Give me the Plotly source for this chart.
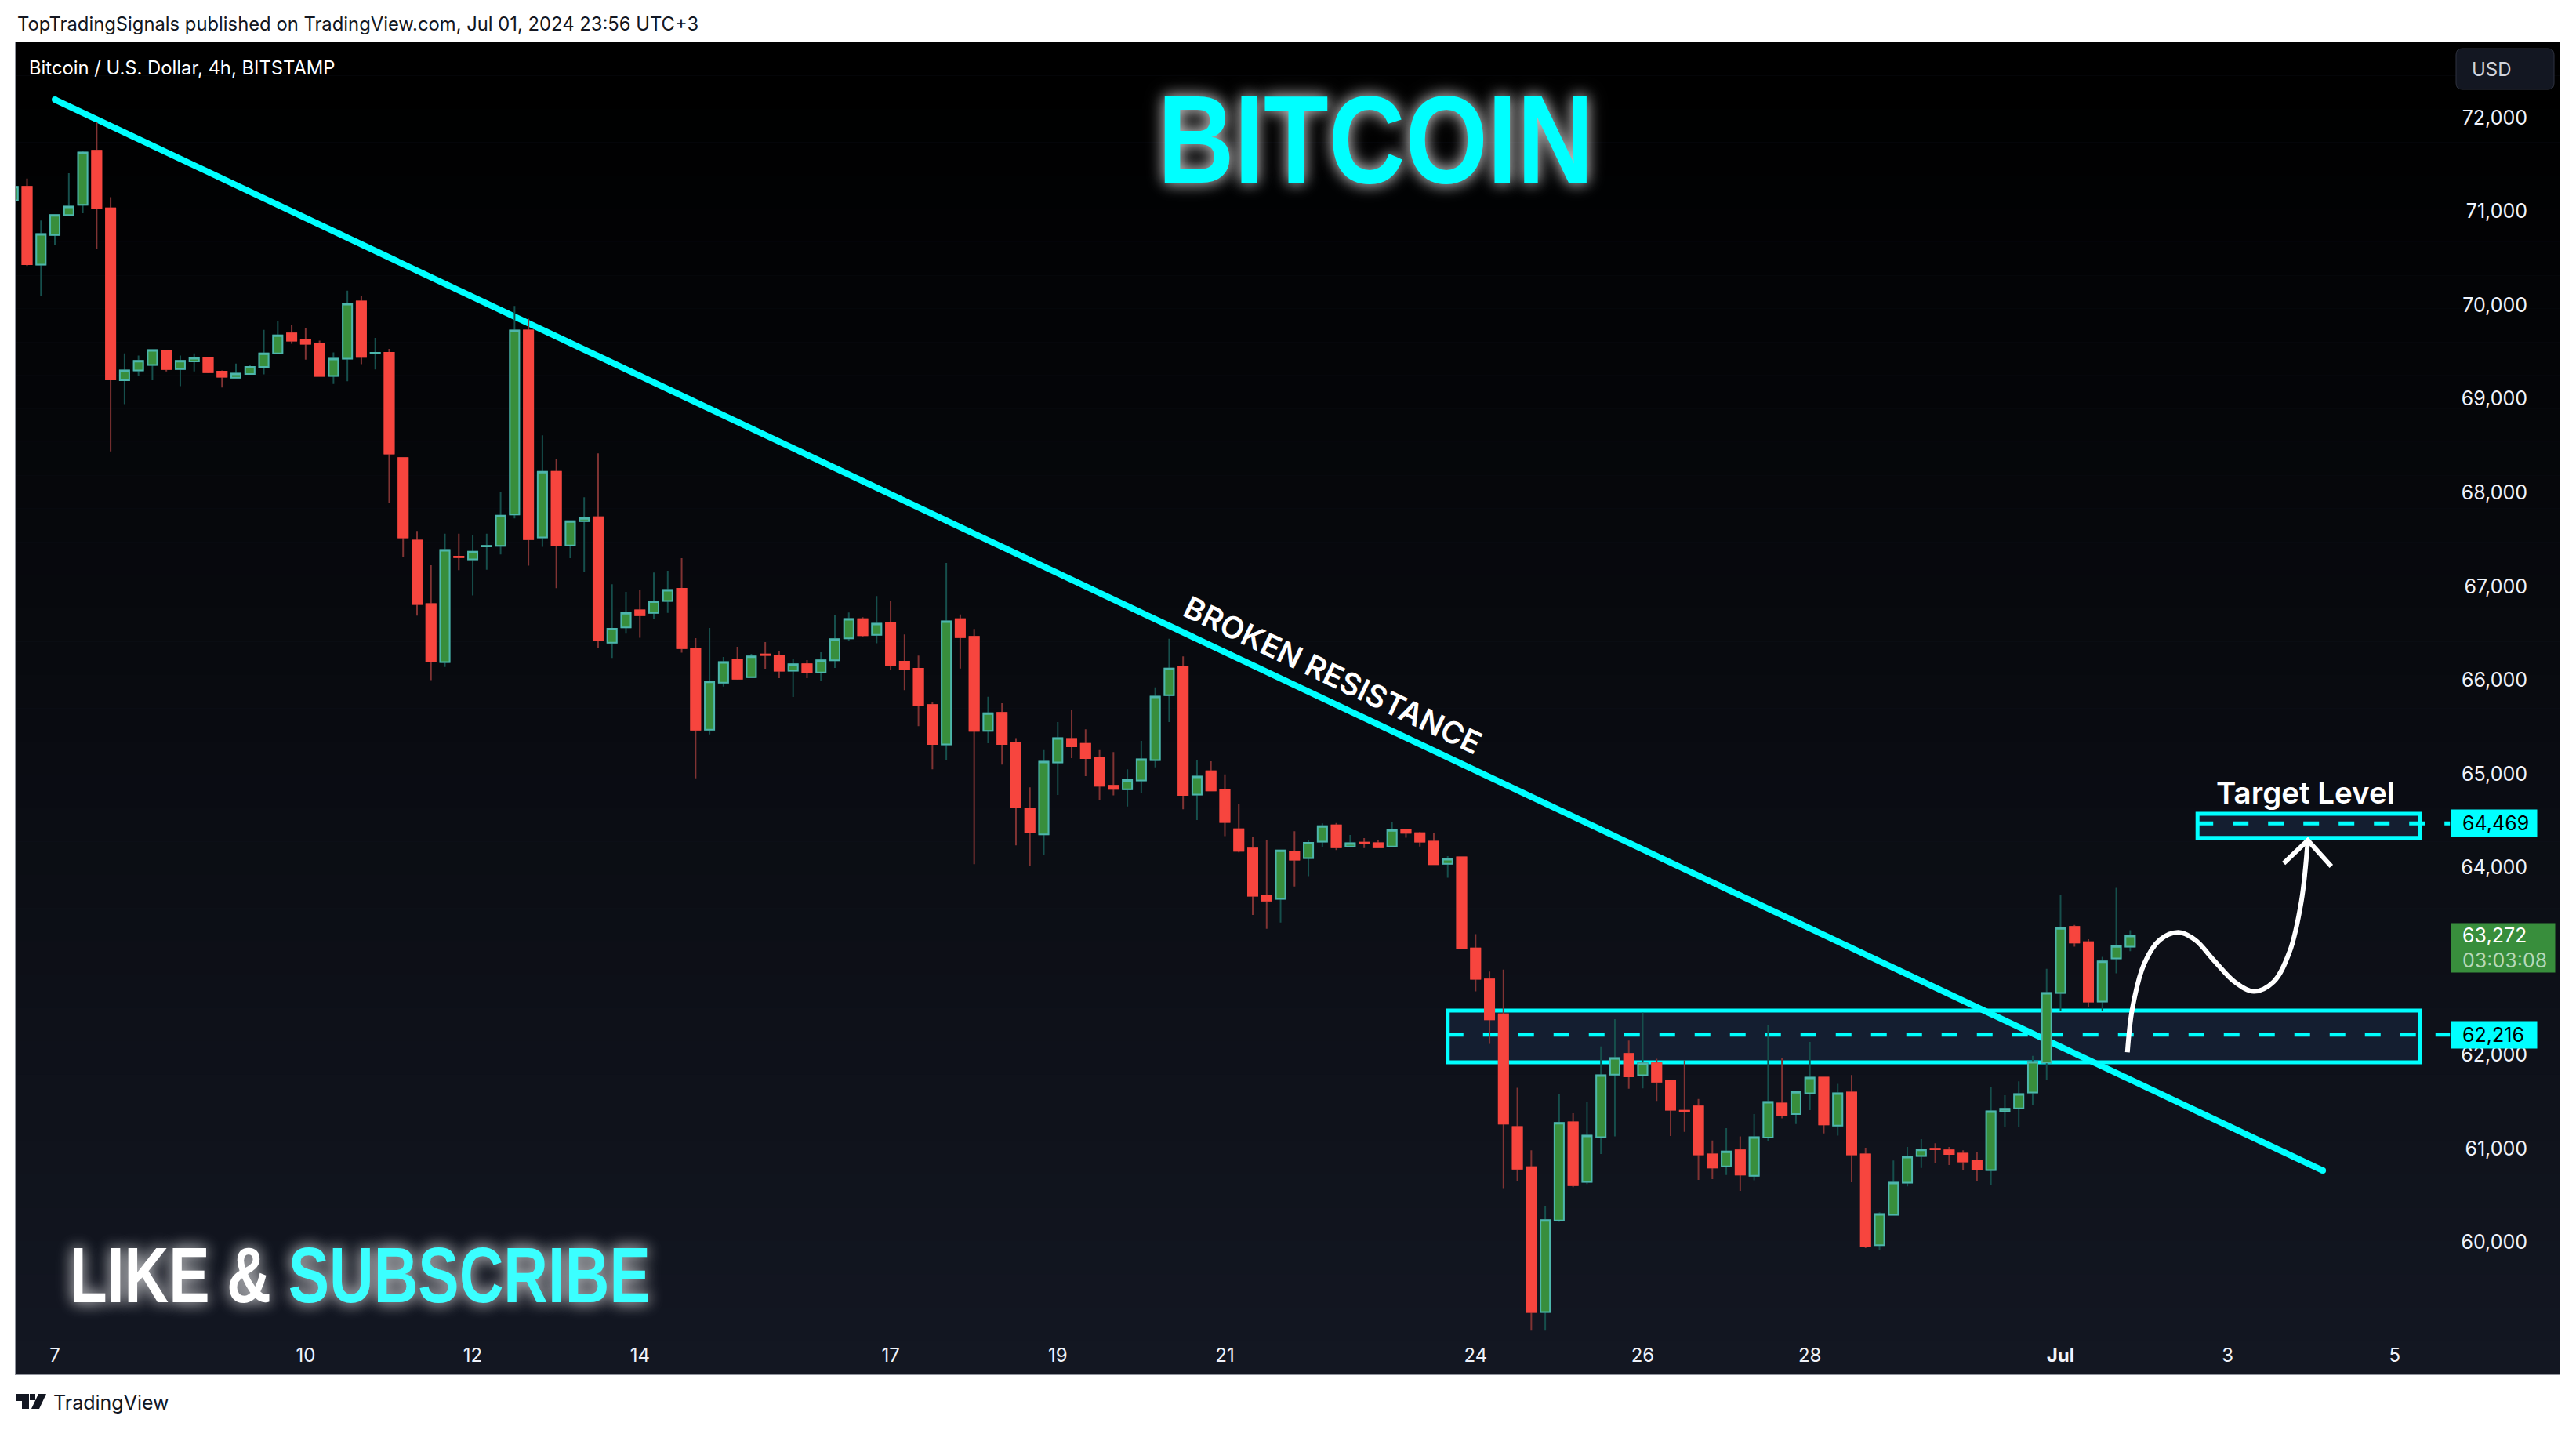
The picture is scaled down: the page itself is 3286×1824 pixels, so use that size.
# Bitcoin 4h chart with trendline and levels, in the TradingView look

import pandas as pd
from plotly import graph_objects as go

W, H = 3286, 1824
LEFT, RIGHT, TOP, BOTTOM = 20, 3265, 54, 1753

CYAN = "#00ffff"
UI_FONT = "Inter"
HEADLINE_FONT = "Liberation Sans"

open_prices = [
    71118, 71262, 70431,
    70748, 70960, 71070, 71646, 71032, 69197, 69303, 69361, 69509, 69317,
    69399, 69437, 69289, 69226, 69264, 69341, 69485, 69697, 69630, 69586,
    69245, 69428, 70038, 69485, 69490, 68367, 67488, 66811, 66191, 67315,
    67286, 67425, 67430, 67766, 69730, 67521, 68222, 67435, 67694, 67737,
    66398, 66561, 66743, 66715, 66844, 66974, 66337, 65470, 65972, 66217,
    66031, 66272, 66259, 66098, 66167, 66081, 66209, 66443, 66648, 66481,
    66605, 66195, 66119, 65734, 65312, 66648, 66460, 65457, 65649, 65329,
    64629, 64352, 65120, 65372, 65320, 65167, 64872, 64834, 64928, 65145,
    65837, 66144, 64778, 65026, 64830, 64407, 64202, 63694, 63665, 64172,
    64100, 64275, 64450, 64223, 64265, 64258, 64223, 64403, 64365, 64275,
    64040, 64108, 63135, 62806, 62434, 61230, 60802, 59258, 60234, 61282,
    60646, 61122, 61790, 62010, 61782, 61910, 61726, 61405, 61450, 60938,
    60810, 60982, 60710, 61118, 61482, 61370, 61590, 61758, 61246, 61598,
    60938, 59970, 60294, 60638, 60922, 60998, 60982, 60946, 60870, 60770,
    61398, 61430, 61598, 61918, 62662, 63366, 63202, 62570, 63030, 63154,
]
high_prices = [
    71262, 71349, 70902,
    70960, 71406, 71646, 71958, 71152, 69485, 69461, 69519, 69509, 69461,
    69485, 69437, 69303, 69375, 69365, 69735, 69826, 69788, 69754, 69620,
    69495, 70153, 70095, 69649, 69533, 68372, 67589, 67224, 67560, 67560,
    67550, 67560, 68011, 69990, 69855, 68611, 68357, 67694, 67949, 68419,
    67022, 66940, 66964, 67147, 67166, 67300, 66446, 66555, 66245, 66354,
    66279, 66404, 66312, 66229, 66212, 66295, 66697, 66720, 66669, 66895,
    66848, 66486, 66259, 65760, 67250, 66699, 66545, 65820, 65751, 65380,
    64855, 65252, 65551, 65683, 65474, 65252, 65231, 65047, 65350, 65922,
    66439, 66251, 65141, 65133, 64992, 64676, 64322, 64296, 64181, 64386,
    64292, 64471, 64475, 64347, 64313, 64292, 64480, 64403, 64377, 64365,
    64121, 64108, 63289, 62890, 62910, 61650, 60982, 60390, 61578, 61378,
    61502, 62090, 62382, 62154, 62450, 61958, 61738, 61942, 61530, 61086,
    61218, 61130, 61370, 62314, 61962, 61606, 62138, 61766, 61690, 61786,
    61010, 60322, 60874, 61018, 61102, 61058, 61018, 60982, 60966, 61662,
    61570, 61718, 61990, 62918, 63710, 63386, 63234, 63046, 63782, 63330,
]
low_prices = [
    71118, 70417, 70100,
    70643, 70960, 70979, 70600, 68439, 68943, 69245, 69197, 69293, 69135,
    69293, 69274, 69120, 69226, 69264, 69260, 69485, 69586, 69418, 69236,
    69159, 69188, 69370, 69313, 67886, 67310, 66686, 65999, 66138, 67171,
    66902, 67176, 67339, 67723, 67219, 67421, 66979, 67300, 67157, 66340,
    66235, 66494, 66451, 66652, 66715, 66292, 64950, 65420, 65930, 66003,
    66031, 66120, 66019, 65819, 66019, 65994, 66128, 66417, 66460, 66392,
    66106, 65892, 65508, 65047, 65141, 66123, 64036, 65325, 65098, 64236,
    64019, 64138, 64774, 65167, 64975, 64723, 64770, 64650, 64795, 65069,
    65551, 64621, 64505, 64821, 64334, 64160, 63494, 63344, 63412, 63797,
    63908, 64215, 64185, 64223, 64206, 64215, 64223, 64317, 64223, 64027,
    63891, 63127, 62678, 62118, 60578, 60650, 59058, 59058, 60218, 60590,
    60622, 60942, 61130, 61638, 61642, 61510, 61134, 61178, 60666, 60674,
    60718, 60550, 60662, 61082, 61322, 61262, 61410, 61162, 61138, 60642,
    59938, 59914, 60294, 60598, 60794, 60850, 60826, 60770, 60658, 60610,
    61234, 61234, 61470, 61738, 62474, 63154, 62514, 62466, 62870, 63106,
]
close_prices = [
    71262, 70436, 70758,
    70960, 71051, 71627, 71037, 69207, 69303, 69404, 69519, 69317, 69404,
    69437, 69284, 69236, 69269, 69341, 69485, 69677, 69620, 69586, 69245,
    69428, 70014, 69447, 69490, 68415, 67521, 66811, 66201, 67387, 67310,
    67368, 67430, 67752, 69730, 67502, 68222, 67435, 67694, 67728, 66427,
    66547, 66715, 66691, 66840, 66960, 66340, 65470, 65983, 66192, 66014,
    66251, 66267, 66098, 66167, 66081, 66209, 66435, 66652, 66477, 66601,
    66153, 66119, 65734, 65316, 66626, 66456, 65457, 65645, 65316, 64646,
    64377, 65128, 65380, 65291, 65167, 64872, 64838, 64932, 65154, 65824,
    66123, 64774, 64970, 64821, 64484, 64177, 63699, 63647, 64181, 64083,
    64262, 64441, 64215, 64258, 64260, 64215, 64399, 64369, 64275, 64036,
    64091, 63135, 62811, 62378, 61266, 60786, 59258, 60238, 61274, 60610,
    61138, 61782, 61966, 61770, 61910, 61714, 61414, 61400, 60938, 60798,
    60970, 60722, 61122, 61498, 61358, 61606, 61758, 61258, 61590, 60938,
    59962, 60302, 60638, 60914, 60990, 60993, 60942, 60862, 60782, 61398,
    61426, 61582, 61926, 62662, 63354, 63198, 62570, 62998, 63162, 63272,
]

# 63,000 sits behind the last price tag, so it has no label
price_ticks = [72000, 71000, 70000, 69000, 68000, 67000, 66000, 65000, 64000, 62000, 61000, 60000]
date_ticks = ["2024-06-07", "2024-06-10", "2024-06-12", "2024-06-14", "2024-06-17", "2024-06-19", "2024-06-21",
              "2024-06-24", "2024-06-26", "2024-06-28", "2024-07-01", "2024-07-03", "2024-07-05"]
date_labels = ["7", "10", "12", "14", "17", "19", "21", "24", "26", "28", "<b>Jul</b>", "3", "5"]

trend_dates = ["2024-06-07 00:00", "2024-07-04 03:20"]
trend_prices = [72192, 60766]

support_top, support_level, support_bottom = 62474, 62216, 61922
target_top, target_level, target_bottom = 64572, 64469, 64316
support_start, target_start, zone_end = "2024-06-23 16:00", "2024-07-02 15:20", "2024-07-05 07:12"
level_end = "2024-07-05 15:50"

path_dates = ["2024-07-01 19:12", "2024-07-01 20:36", "2024-07-02 00:00", "2024-07-02 04:30", "2024-07-02 09:50",
              "2024-07-02 14:40", "2024-07-02 20:10", "2024-07-03 02:00", "2024-07-03 07:30", "2024-07-03 13:10",
              "2024-07-03 17:45", "2024-07-03 21:10", "2024-07-03 23:00"]
path_prices = [62027, 62491, 62971, 63227, 63307, 63227, 63003, 62779, 62677, 62779, 63099, 63643, 64290]
arrow_dates = ["2024-07-03 16:05", "2024-07-03 23:00", "2024-07-04 05:45"]
arrow_prices = [64044, 64290, 64012]


def px(x):
    return (x - LEFT) / (RIGHT - LEFT)


def py(y):
    return (BOTTOM - y) / (BOTTOM - TOP)


df = pd.DataFrame({"open": open_prices, "high": high_prices, "low": low_prices, "close": close_prices})
df["date"] = pd.date_range("2024-06-06 12:00", periods=len(df), freq="4h")
df["body_high"] = df[["open", "close"]].max(axis=1)
df["body_low"] = df[["open", "close"]].min(axis=1)
up = df[df.close >= df.open]
down = df[df.close < df.open]

fig = go.Figure()

# wicks first, in their dim colours, then the bodies on top
for part, wick in ((up, "#164f4c"), (down, "#803333")):
    style = dict(line=dict(color=wick, width=2), fillcolor=wick)
    fig.add_trace(go.Candlestick(x=part.date, open=part.open, high=part.high, low=part.low, close=part.close,
                                 increasing=style, decreasing=style, showlegend=False, hoverinfo="skip"))
fig.add_trace(go.Candlestick(x=df.date, open=df.open, high=df.body_high, low=df.body_low, close=df.close,
                             increasing=dict(line=dict(color="#4db6ac", width=2), fillcolor="#388e3c"),
                             decreasing=dict(line=dict(color="#f7453e", width=2), fillcolor="#f7453e"),
                             showlegend=False, hoverinfo="skip"))

# hand drawn path and arrow
fig.add_trace(go.Scatter(x=path_dates, y=path_prices, mode="lines", showlegend=False, hoverinfo="skip",
                         line=dict(color="white", width=6, shape="spline", smoothing=1)))
fig.add_trace(go.Scatter(x=arrow_dates, y=arrow_prices, mode="lines", showlegend=False, hoverinfo="skip",
                         line=dict(color="white", width=6)))

shapes = []

# panel background fades from black at the top
STRIPS = 40
for i in range(STRIPS):
    t = i / (STRIPS - 1)
    colour = "rgb(%d,%d,%d)" % (0x13 * t, 0x17 * t, 0x22 * t)
    shapes.append(dict(type="rect", xref="paper", yref="paper", x0=0, x1=1, layer="below",
                       y0=1 - i / STRIPS, y1=1 - (i + 1) / STRIPS, fillcolor=colour, line_width=0))

for start, top, level, bottom in ((support_start, support_top, support_level, support_bottom),
                                  (target_start, target_top, target_level, target_bottom)):
    shapes.append(dict(type="rect", xref="x", yref="y", x0=start, x1=zone_end, y0=bottom, y1=top, layer="below",
                       fillcolor="#141e30", line=dict(color=CYAN, width=5)))
    shapes.append(dict(type="line", xref="x", yref="y", x0=start, x1=level_end, y0=level, y1=level, layer="below",
                       line=dict(color=CYAN, width=5, dash="20px,25px")))

shapes.append(dict(type="line", xref="x", yref="y", x0=trend_dates[0], x1=trend_dates[1],
                   y0=trend_prices[0], y1=trend_prices[1], layer="below", line=dict(color=CYAN, width=8)))
for d, p in zip(trend_dates, trend_prices):
    shapes.append(dict(type="circle", xref="x", yref="y", xsizemode="pixel", ysizemode="pixel", xanchor=d, yanchor=p,
                       x0=-4, x1=4, y0=-4, y1=4, layer="below", fillcolor=CYAN, line_width=0))

# USD button
shapes.append(dict(type="path", xref="paper", yref="paper", fillcolor="#131722", line=dict(color="#2f3340", width=1),
                   path="M %f %f L %f %f Q %f %f %f %f L %f %f Q %f %f %f %f L %f %f Q %f %f %f %f L %f %f Q %f %f %f %f Z" % (
                       px(3141), py(62), px(3250), py(62), px(3258), py(62), px(3258), py(70), px(3258), py(106),
                       px(3258), py(114), px(3250), py(114), px(3141), py(114), px(3133), py(114), px(3133), py(106),
                       px(3133), py(70), px(3133), py(62), px(3141), py(62))))

# TradingView logo
for pts in ([(20, 1778), (37, 1778), (37, 1797), (28, 1797), (28, 1787), (20, 1787)],
            [(38, 1778), (45, 1778), (45, 1786), (38, 1786)],
            [(49, 1778), (59, 1778), (50, 1797), (40, 1797)]):
    path = "M " + " L ".join("%f %f" % (px(x), py(y)) for x, y in pts) + " Z"
    shapes.append(dict(type="path", xref="paper", yref="paper", path=path, fillcolor="#131722", line_width=0))


def text(x, y, s, size, colour="white", anchor="left", font=UI_FONT, weight=None, shadow=None, **kw):
    return dict(xref="paper", yref="paper", x=px(x), y=py(y), text=s, showarrow=False, xanchor=anchor, yanchor="middle",
                font=dict(family=font, size=size, color=colour, weight=weight, shadow=shadow), **kw)


def price_tag(price, s, colour, fill, width, height):
    return dict(xref="paper", yref="y", x=px(3126), y=price, text=s, showarrow=False, xanchor="left", yanchor="middle",
                align="left", bgcolor=fill, width=width, height=height, borderpad=0,
                font=dict(family=UI_FONT, size=25, color=colour))


glow = "0 0 20px rgba(255,255,255,0.7), 0 0 28px rgba(255,255,255,0.35)"
annotations = [
    text(20, 31, "TopTradingSignals published on TradingView.com, Jul 01, 2024 23:56 UTC+3", 23.8, "#131722"),
    text(35, 86, "Bitcoin / U.S. Dollar, 4h, BITSTAMP", 23.8),
    text(3151, 88, "USD", 24, "#d1d4dc"),
    text(66, 1789, "TradingView", 25, "#131722"),
    text(1755, 178, "BITCOIN", 160, CYAN, "center", HEADLINE_FONT, 700, glow),
    text(459.5, 1626, "LIKE & <span style=\"color:#3bffff\">SUBSCRIBE</span>", 100, "white", "center",
         HEADLINE_FONT, 700, glow),
    text(1700, 860, "BROKEN RESISTANCE", 39, "white", "center", UI_FONT, 600, textangle=25.5),
    text(2941, 1011, "Target Level", 38.5, "white", "center", UI_FONT, 600),
    price_tag(target_level, "  64,469", "black", CYAN, 109, 34),
    price_tag(support_level, "  62,216", "black", CYAN, 109, 34),
    price_tag(63141, "  63,272<br><span style=\"color:#b7d8b9\">  03:03:08</span>", "white", "#388e3c", 132, 62),
]

fig.update_layout(
    width=W, height=H,
    margin=dict(l=LEFT, r=W - RIGHT, t=TOP, b=H - BOTTOM, pad=0),
    paper_bgcolor="white",
    plot_bgcolor="#131722",
    boxgap=0.325, boxgroupgap=0,
    showlegend=False,
    shapes=shapes,
    annotations=annotations,
    xaxis=dict(range=["2024-06-06 12:44", "2024-07-06 23:18"], rangeslider=dict(visible=False), showgrid=False,
               zeroline=False, tickmode="array", tickvals=date_ticks, ticktext=date_labels, ticks="",
               ticklabelposition="inside", ticklabelstandoff=13, tickangle=0, showline=True, mirror=True,
               linecolor="#8f929b", linewidth=1, tickfont=dict(family=UI_FONT, size=24, color="#f0f3fa")),
    yaxis=dict(side="right", range=[58592, 72803], showgrid=False, zeroline=False, tickmode="array",
               tickvals=price_ticks, tickformat=",", ticks="", ticklabelposition="inside", ticklabelstandoff=43,
               showline=True, mirror=True, linecolor="#8f929b", linewidth=1,
               tickfont=dict(family=UI_FONT, size=25, color="#f0f3fa")),
)

# no condensed bold font is installed, so squeeze the headlines to their width
post_script = """
document.body.style.margin = '0';
var squeeze = {'BITCOIN': 556, 'LIKE & SUBSCRIBE': 741};
document.querySelectorAll('.annotation-text').forEach(function (t) {
    var w = squeeze[t.textContent];
    if (w) {
        t.setAttribute('textLength', w);
        t.setAttribute('lengthAdjust', 'spacingAndGlyphs');
    }
});
"""
fig.write_html("out.html", post_script=post_script, config=dict(displayModeBar=False))
